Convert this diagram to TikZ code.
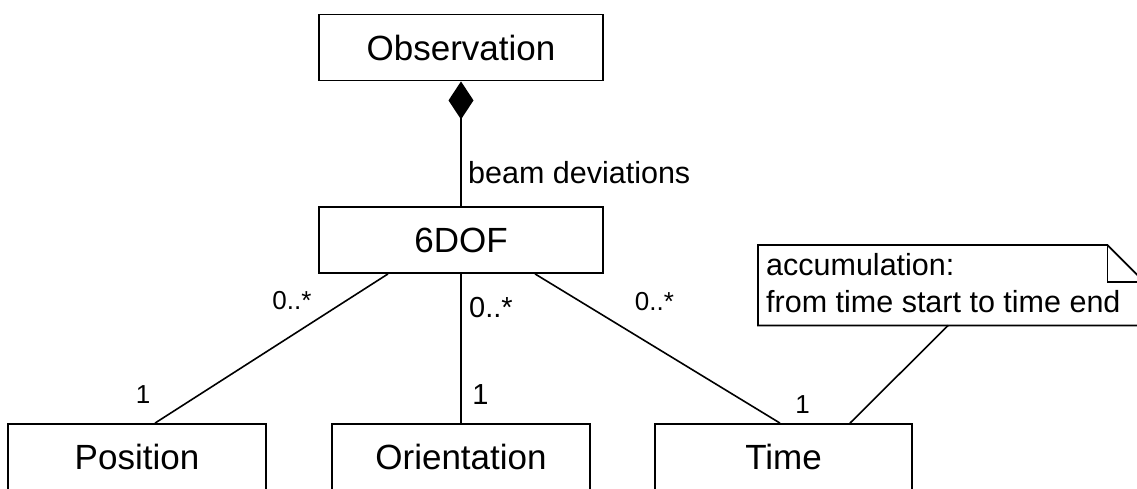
\documentclass[tikz,border=0pt]{standalone}
\usepackage{fontspec}
\setmainfont{Liberation Sans}
\usetikzlibrary{arrows.meta}
\begin{document}
\begin{tikzpicture}[x=1pt,y=-1pt,
  classbox/.style={draw, line width=1.8pt, minimum width=284pt, minimum height=66pt,
    inner sep=0pt, font=\fontsize{35}{42}\selectfont},
  smallbox/.style={classbox, minimum width=258pt},
  assoc/.style={line width=1.6pt},
  notebox/.style={line width=1.8pt, line join=miter},
  mult/.style={inner sep=0pt, font=\fontsize{26}{31}\selectfont},
  multbig/.style={inner sep=0pt, font=\fontsize{29}{35}\selectfont},
  label/.style={inner sep=0pt, font=\fontsize{30.5}{37}\selectfont}]
\useasboundingbox (0,0) rectangle (1137,488);
\clip (0,0) rectangle (1137,488);

% classes
\node[classbox] (obs) at (461,47.5) {Observation};
\node[classbox] (dof) at (461,240) {6DOF};
\node[smallbox] (pos) at (137,457) {Position};
\node[smallbox] (ori) at (461,457) {Orientation};
\node[smallbox, minimum width=257pt] (time) at (783.5,457) {Time};

% note with folded corner
\node[minimum width=386pt, minimum height=80pt, inner sep=0pt, anchor=north west] (note) at (758,245) {};
\draw[notebox] (note.north west) -- ([xshift=-37pt]note.north east)
  -- ([yshift=-37pt]note.north east) -- (note.south east) -- (note.south west) -- cycle;
\draw[notebox] ([xshift=-37pt]note.north east) -- ([xshift=-37pt,yshift=-37pt]note.north east)
  -- ([yshift=-37pt]note.north east);
\node[label, anchor=north west, align=left] (notetext) at (766,253)
  {accumulation:\\from time start to time end};

% composition
\draw[assoc, -{Diamond[length=38pt,width=25pt]}] (dof.north) -- (obs.south);
\node[label, anchor=base west] (role) at (468,183) {beam deviations};

% associations
\draw[assoc] ([xshift=-73pt]dof.south) -- ([xshift=18pt]pos.north);
\draw[assoc] (dof.south) -- (ori.north);
\draw[assoc] ([xshift=74pt]dof.south) -- ([xshift=-3.5pt]time.north);
\draw[assoc] ([xshift=-3pt]note.south) -- ([xshift=66.5pt]time.north);

% multiplicities
\node[mult] (m1) at (292,301) {0..*};
\node[mult] (m2) at (143,395) {1};
\node[multbig, anchor=west] (m3) at (469,307.5) {0..*};
\node[multbig] (m4) at (480.5,395) {1};
\node[mult] (m5) at (654.5,302) {0..*};
\node[mult] (m6) at (802.5,405) {1};
\end{tikzpicture}
\end{document}
